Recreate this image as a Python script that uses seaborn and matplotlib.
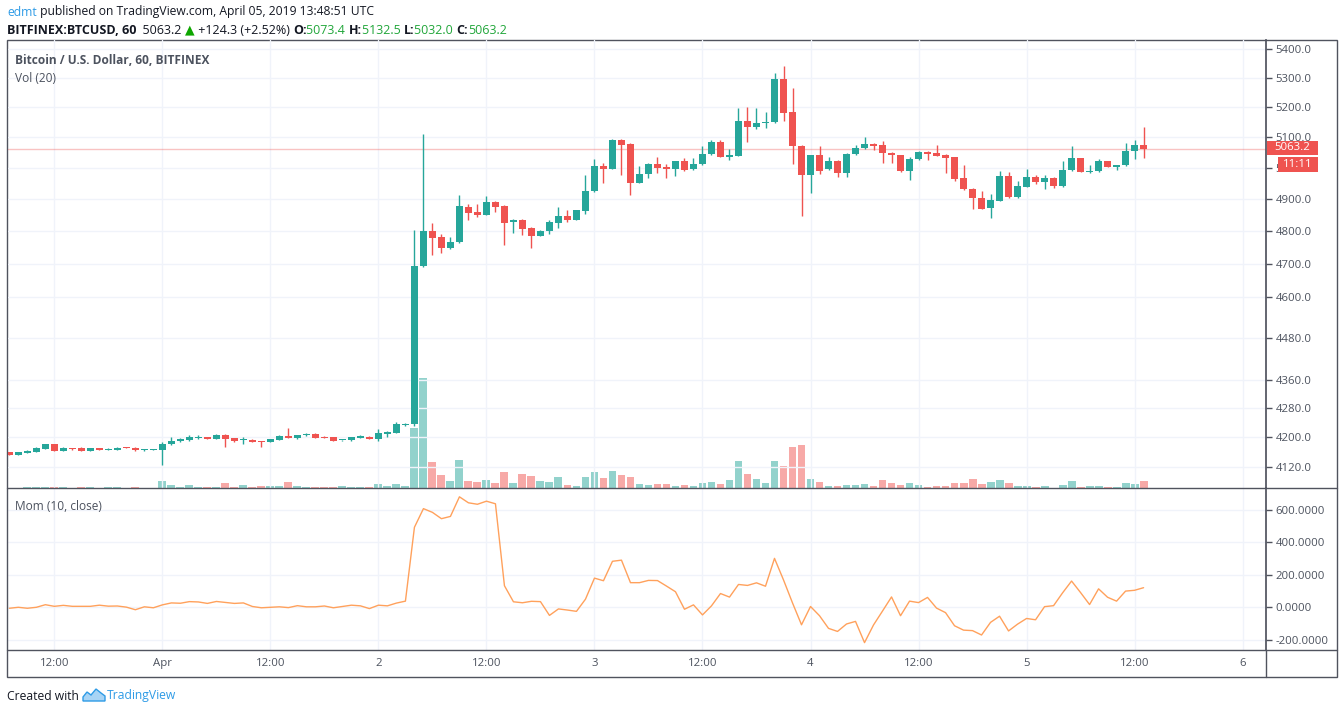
import numpy as np
import pandas as pd
import seaborn as sns
import matplotlib.pyplot as plt
import matplotlib.dates as mdates
from matplotlib.ticker import FixedLocator, FuncFormatter, NullLocator
from matplotlib.patches import Rectangle, Polygon
from matplotlib.lines import Line2D
from matplotlib.offsetbox import TextArea, HPacker, AnnotationBbox

# hourly BTCUSD candles, Mar 31 07:00 -> Apr 5 13:00 (UTC)
open_ = [4160, 4153, 4158, 4160, 4169, 4181, 4164, 4170, 4170, 4164,
         4170, 4166, 4166, 4172, 4172, 4166, 4166, 4166, 4181, 4189,
         4192, 4197, 4201, 4196, 4207, 4198, 4192, 4194, 4190, 4188,
         4194, 4204, 4199, 4205, 4210, 4201, 4201, 4192, 4192, 4199,
         4201, 4196, 4210, 4213, 4235, 4236, 4692, 4800, 4780, 4746,
         4765, 4876, 4859, 4851, 4891, 4878, 4827, 4834, 4808, 4784,
         4800, 4826, 4847, 4835, 4864, 4925, 5006, 4998, 5091, 5078,
         4952, 4979, 5013, 5002, 4997, 5022, 4995, 5013, 5044, 5085,
         5037, 5040, 5154, 5134, 5146, 5150, 5296, 5183, 5072, 4977,
         5042, 4995, 5024, 4985, 5045, 5065, 5078, 5075, 5050, 5042,
         4990, 5029, 5053, 5050, 5043, 5034, 4966, 4933, 4905, 4873,
         4895, 4974, 4907, 4940, 4971, 4956, 4968, 4942, 4992, 5032,
         4987, 4989, 5021, 5003, 5008, 5055, 5073.4]
high = [4161, 4161, 4165, 4173, 4182, 4182, 4173, 4171, 4175, 4171,
        4171, 4170, 4175, 4173, 4173, 4168, 4168, 4188, 4201, 4198,
        4206, 4206, 4202, 4208, 4208, 4199, 4200, 4196, 4191, 4196,
        4205, 4225, 4207, 4213, 4211, 4204, 4202, 4194, 4202, 4207,
        4204, 4223, 4218, 4242, 4238, 4803, 5111, 4824, 4791, 4782,
        4913, 4885, 4885, 4910, 4894, 4880, 4836, 4838, 4812, 4803,
        4834, 4875, 4867, 4866, 4977, 5029, 5016, 5093, 5095, 5080,
        5006, 5016, 5034, 5013, 5022, 5031, 5033, 5070, 5090, 5090,
        5063, 5197, 5201, 5199, 5185, 5317, 5341, 5265, 5074, 5042,
        5071, 5034, 5026, 5047, 5075, 5100, 5081, 5088, 5051, 5043,
        5034, 5055, 5055, 5076, 5045, 5034, 5008, 4936, 4926, 4915,
        4990, 4986, 4958, 4996, 4977, 4977, 4970, 5021, 5071, 5033,
        5008, 5030, 5022, 5010, 5081, 5091, 5132.5]
low = [4152, 4152, 4157, 4159, 4168, 4163, 4163, 4167, 4163, 4163,
       4165, 4165, 4165, 4170, 4163, 4164, 4165, 4126, 4180, 4188,
       4191, 4196, 4195, 4195, 4175, 4186, 4183, 4187, 4175, 4186,
       4193, 4198, 4196, 4204, 4198, 4198, 4190, 4191, 4191, 4198,
       4195, 4191, 4202, 4212, 4230, 4230, 4688, 4726, 4733, 4745,
       4763, 4834, 4844, 4849, 4860, 4758, 4793, 4788, 4748, 4783,
       4790, 4810, 4828, 4835, 4853, 4923, 4952, 4995, 4978, 4914,
       4950, 4969, 4985, 4969, 4975, 4989, 4994, 5011, 5042, 5035,
       5027, 5040, 5085, 5129, 5130, 5148, 5154, 5013, 4848, 4920,
       4980, 4993, 4972, 4972, 5043, 5062, 5057, 5017, 5017, 4988,
       4961, 5027, 5026, 5040, 4985, 4958, 4929, 4870, 4868, 4841,
       4893, 4905, 4905, 4938, 4947, 4933, 4937, 4940, 4990, 4987,
       4982, 4988, 5002, 4994, 5006, 5028, 5032.0]
close = [4153, 4161, 4164, 4170, 4181, 4164, 4170, 4168, 4164, 4170,
         4166, 4168, 4172, 4171, 4166, 4167, 4167, 4183, 4191, 4195,
         4201, 4201, 4196, 4207, 4196, 4191, 4194, 4188, 4188, 4195,
         4204, 4199, 4206, 4210, 4199, 4199, 4191, 4193, 4201, 4204,
         4196, 4212, 4215, 4236, 4237, 4693, 4800, 4779, 4748, 4765,
         4878, 4857, 4851, 4891, 4876, 4826, 4834, 4807, 4785, 4800,
         4828, 4847, 4834, 4866, 4926, 5006, 4998, 5091, 5076, 4952,
         4980, 5013, 4999, 4997, 5022, 4994, 5013, 5044, 5085, 5037,
         5043, 5154, 5134, 5148, 5152, 5296, 5182, 5071, 4977, 5042,
         4991, 5024, 4985, 5045, 5065, 5078, 5073, 5048, 5041, 4990,
         5029, 5053, 5046, 5040, 5032, 4964, 4932, 4904, 4870, 4897,
         4974, 4907, 4942, 4971, 4955, 4968, 4942, 4993, 5032, 4988,
         4991, 5021, 5004, 5009, 5055, 5074, 5063.2]
volume = [0.3, 0.3, 1, 1, 1, 1, 1, 0.3, 1, 1,
          0.3, 1, 1, 0.3, 1, 0.3, 0.3, 7, 3, 1,
          3, 1, 1, 1, 5, 1, 3, 1, 2, 2,
          2, 6, 2, 1, 1, 1, 1, 2, 1, 1,
          1, 4, 2, 4, 2, 60, 110, 26, 13, 7,
          28, 7, 6, 8, 5, 16, 5, 14, 12, 7,
          6, 11, 3, 2, 11, 16, 10, 17, 13, 11,
          4, 3, 4, 4, 2, 3, 2, 5, 6, 4,
          8, 27, 14, 9, 5, 27, 22, 41, 43, 9,
          6, 2, 2, 3, 3, 4, 2, 8, 5, 3,
          5, 3, 1, 2, 2, 5, 5, 9, 4, 6,
          8, 5, 2, 2, 1, 2, 0.5, 3, 7, 1,
          2, 2, 1, 1, 5, 4, 7]
# Mom (10, close)
momentum = [-6, 0, -6, 0, 16, 6, 12, 6, 6, 6,
            13, 7, 8, 1, -15, 3, -3, 15, 27, 25,
            35, 33, 24, 36, 30, 24, 27, 5, -3, 0,
            3, -2, 10, 3, 3, 8, -3, 5, 13, 9,
            -8, 13, 9, 26, 38, 494, 609, 586, 547, 561,
            682, 645, 636, 655, 639, 133, 34, 28, 37, 35,
            -50, -10, -17, -25, 50, 180, 164, 284, 291, 152,
            152, 166, 165, 131, 96, -12, 15, -47, 9, 85,
            63, 141, 135, 151, 130, 302, 169, 27, -108, 5,
            -52, -130, -149, -103, -87, -218, -109, -23, 64, -52,
            38, 29, 61, -5, -33, -114, -141, -144, -171, -93,
            -55, -146, -104, -69, -77, 4, 10, 89, 162, 91,
            17, 114, 62, 38, 100, 105, 121]

time_labels = ["12:00", "Apr", "12:00", "2", "12:00", "3",
               "12:00", "4", "12:00", "5", "12:00", "6"]
price_ticks = [5400, 5300, 5200, 5100, 5000, 4900, 4800, 4700,
               4600, 4480, 4360, 4280, 4200, 4120]
mom_ticks = [600, 400, 200, 0, -200]

GREEN = "#26a69a"
RED = "#ef5350"
VOL_GREEN = "#92d2cc"
VOL_RED = "#f7a9a7"
MOM = "#ffa15c"
GRID = "#f0f3fa"
TEXT = "#4c525e"
FRAME = "#50535e"

times = pd.date_range("2019-03-31 07:00", periods=len(close), freq="h")
df = pd.DataFrame({"time": times, "open": open_, "high": high, "low": low,
                   "close": close, "volume": volume, "mom": momentum})
df["x"] = mdates.date2num(df["time"].dt.to_pydatetime())
df["up"] = df["close"] >= df["open"]
tick_x = mdates.date2num(pd.date_range("2019-03-31 12:00", periods=len(time_labels),
                                       freq="12h").to_pydatetime())

sns.set_theme(style="white")
plt.rcParams["font.family"] = ["Open Sans", "DejaVu Sans"]

W, H = 1344, 714
fig = plt.figure(figsize=(W / 100, H / 100), dpi=100)


def fx(px):
    return px / W


def fy(py):
    return 1 - py / H


hour = 1 / 24
x0 = df["x"].iloc[0]
xlim = (x0 - 0.15 * hour, x0 + 139.6 * hour)

ax = fig.add_axes([fx(8), fy(488), fx(1266) - fx(8), fy(40) - fy(488)])
axm = fig.add_axes([fx(8), fy(650), fx(1266) - fx(8), fy(488) - fy(650)])

# volume overlay behind the candles
axv = ax.twinx()
axv.bar(df["x"], df["volume"], width=0.88 * hour,
        color=np.where(df["up"], VOL_GREEN, VOL_RED), linewidth=0)
axv.set_ylim(0, 448)
axv.set_axis_off()
ax.set_zorder(axv.get_zorder() + 1)
ax.patch.set_visible(False)

# candles
colors = np.where(df["up"], GREEN, RED)
body_lo = np.minimum(df["open"], df["close"])
body_h = np.maximum(np.abs(df["close"] - df["open"]), df["close"] * 0.0006)
ax.vlines(df["x"], df["low"], df["high"], colors=colors, linewidth=1, zorder=3)
ax.bar(df["x"], body_h, bottom=body_lo, width=0.74 * hour, color=colors,
       linewidth=0, zorder=4)

ax.set_yscale("log")
ax.set_ylim(4064.5, 5431.5)
ax.set_xlim(*xlim)
ax.yaxis.set_major_locator(FixedLocator(price_ticks))
ax.yaxis.set_minor_locator(NullLocator())
ax.yaxis.set_major_formatter(FuncFormatter(lambda v, _: f"{v:.1f}"))
ax.yaxis.tick_right()
ax.set_xticks(tick_x)
ax.set_xticklabels([])
ax.tick_params(axis="x", length=0)
ax.tick_params(axis="y", length=4, width=1, color=FRAME, pad=3,
               labelsize=8.2, labelcolor=TEXT)
ax.grid(True, color=GRID, linewidth=1)
for s in ["top", "left", "bottom"]:
    ax.spines[s].set_visible(False)
ax.spines["right"].set_color(FRAME)

# last price line
last = df["close"].iloc[-1]
ax.axhline(last, color=RED, alpha=0.35, linewidth=1, zorder=2)

# momentum pane
sns.lineplot(data=df, x="x", y="mom", ax=axm, color=MOM, linewidth=1)
axm.set_xlim(*xlim)
axm.set_ylim(-263.6, 736.4)
axm.yaxis.set_major_locator(FixedLocator(mom_ticks))
axm.yaxis.set_major_formatter(FuncFormatter(lambda v, _: f"{v:.4f}"))
axm.yaxis.tick_right()
axm.set_xticks(tick_x)
axm.set_xticklabels(time_labels)
axm.set_xlabel("")
axm.set_ylabel("")
axm.tick_params(axis="x", length=0, pad=6, labelsize=8.2, labelcolor=TEXT)
axm.tick_params(axis="y", length=4, width=1, color=FRAME, pad=3,
                labelsize=8.2, labelcolor=TEXT)
axm.grid(True, color=GRID, linewidth=1)
for s in ["top", "left", "bottom"]:
    axm.spines[s].set_visible(False)
axm.spines["right"].set_color(FRAME)

# frame and separators
fig.add_artist(Rectangle((fx(7), fy(677)), fx(1337) - fx(7), fy(40) - fy(677),
                         transform=fig.transFigure, fill=False,
                         edgecolor=FRAME, linewidth=1))
for yy in (488, 650):
    fig.add_artist(Line2D([fx(7), fx(1337)], [fy(yy), fy(yy)],
                          transform=fig.transFigure, color=FRAME, linewidth=1))
fig.add_artist(Line2D([fx(1266), fx(1266)], [fy(650), fy(677)],
                      transform=fig.transFigure, color=FRAME, linewidth=1))

# price tags on the axis (they cover the 5000.0 label, as in the original)
fig.add_artist(Rectangle((fx(1267), fy(155)), 51 / W, 14 / H,
                         transform=fig.transFigure, fc=RED, ec="none", zorder=5))
fig.text(fx(1292.5), fy(148), f"{last:.1f}", color="white", fontsize=8.2,
         va="center", ha="center", zorder=6)
fig.add_artist(Rectangle((fx(1278), fy(172)), 40 / W, 15 / H,
                         transform=fig.transFigure, fc=RED, ec="none", zorder=5))
fig.text(fx(1298), fy(164.5), "11:11", color="white", fontsize=8.2,
         va="center", ha="center", zorder=6)

# pane captions
fig.text(fx(15), fy(61), "Bitcoin / U.S. Dollar, 60, BITFINEX", color=TEXT,
         fontsize=8.6, fontweight="bold", va="center")
fig.text(fx(15), fy(78), "Vol (20)", color=TEXT, fontsize=8.6, va="center")
fig.text(fx(15), fy(506), "Mom (10, close)", color=TEXT, fontsize=8.6, va="center")


def text_row(parts, x, y, size):
    boxes = [TextArea(t, textprops=dict(color=c, fontsize=size, fontweight=w,
                                        family=["Open Sans", "DejaVu Sans"]))
             for t, c, w in parts]
    row = HPacker(children=boxes, align="baseline", pad=0, sep=0)
    ab = AnnotationBbox(row, (x, y), xycoords="figure pixels",
                        box_alignment=(0, 0.5), frameon=False, pad=0)
    fig.add_artist(ab)


LINK = "#2e9be6"
UPG = "#21a63a"
row1 = [("edmt", LINK, "normal"),
        (" published on TradingView.com, April 05, 2019 13:48:51 UTC", "#131722", "normal")]
text_row(row1, 7, H - 12, 8.75)

o, h, l, c = df[["open", "high", "low", "close"]].iloc[-1]
row2 = [("BITFINEX:BTCUSD, 60", "#131722", "bold"),
        (f"  {c:.1f} ", "#131722", "normal"),
        ("\u25b2", "#0ea600", "normal"),
        (" +124.3 (+2.52%) ", "#131722", "normal"),
        ("O:", "#131722", "bold"), (f"{o:.1f} ", UPG, "normal"),
        ("H:", "#131722", "bold"), (f"{h:.1f} ", UPG, "normal"),
        ("L:", "#131722", "bold"), (f"{l:.1f} ", UPG, "normal"),
        ("C:", "#131722", "bold"), (f"{c:.1f}", UPG, "normal")]
text_row(row2, 7, H - 30, 9)

# footer with a small cloud-like logo
text_row([("Created with", "#131722", "normal")], 7, H - 696, 8.75)
logo = [(83, 701), (83, 697), (87, 692), (91, 695), (96, 689), (101, 693),
        (105, 696), (105, 701)]
fig.add_artist(Polygon([(fx(a), fy(b)) for a, b in logo], closed=True,
                       transform=fig.transFigure, fc="#a8d4f5", ec=LINK, lw=1))
text_row([("TradingView", LINK, "normal")], 107, H - 696, 8.75)

fig.savefig("out.png", dpi=100, facecolor="white")
